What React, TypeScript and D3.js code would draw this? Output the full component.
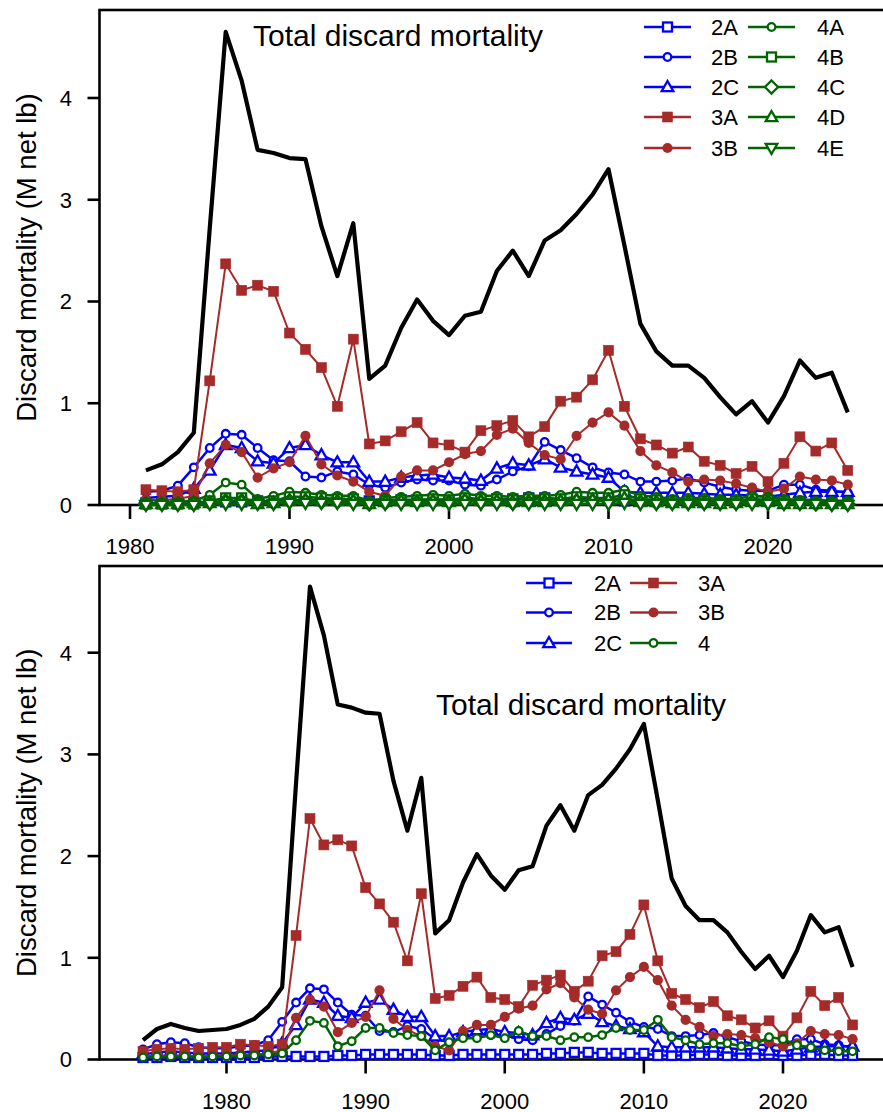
import React from "react";
import * as d3 from "d3";

// ---------- DATA ----------
const yearsAll = d3.range(1974, 2026); // 1974..2025 (bottom panel)
const yearsTop = d3.range(1981, 2026); // 1981..2025 (top panel)

const total = [
  0.19, 0.30, 0.35, 0.31, 0.28, 0.29, 0.30, 0.34, 0.40, 0.52, 0.71,
  2.72, 4.65, 4.17, 3.49, 3.46, 3.41, 3.40, 2.74, 2.25, 2.77,
  1.24, 1.37, 1.74, 2.02, 1.81, 1.67, 1.86, 1.90, 2.30, 2.50,
  2.25, 2.60, 2.70, 2.86, 3.05, 3.30, 2.55, 1.78, 1.51, 1.37,
  1.37, 1.25, 1.06, 0.89, 1.02, 0.81, 1.07, 1.42, 1.25, 1.30, 0.91,
];
const s2A = [
  0.02, 0.02, 0.03, 0.02, 0.02, 0.02, 0.02, 0.02, 0.02, 0.03, 0.03,
  0.03, 0.03, 0.03, 0.04, 0.04, 0.05, 0.05, 0.05, 0.05, 0.05,
  0.04, 0.04, 0.05, 0.05, 0.05, 0.05, 0.05, 0.05, 0.06, 0.06,
  0.07, 0.07, 0.06, 0.06, 0.06, 0.06, 0.04, 0.04, 0.04, 0.05,
  0.05, 0.04, 0.04, 0.04, 0.05, 0.04, 0.04, 0.05, 0.05, 0.04, 0.04,
];
const s2B = [
  0.10, 0.15, 0.17, 0.16, 0.12, 0.11, 0.11, 0.13, 0.14, 0.19, 0.37,
  0.56, 0.70, 0.69, 0.56, 0.44, 0.43, 0.28, 0.27, 0.33, 0.30,
  0.20, 0.17, 0.22, 0.25, 0.24, 0.24, 0.20, 0.19, 0.25, 0.33,
  0.38, 0.62, 0.54, 0.46, 0.37, 0.32, 0.30, 0.23, 0.23, 0.24,
  0.26, 0.22, 0.18, 0.15, 0.14, 0.14, 0.20, 0.20, 0.15, 0.14, 0.12,
];
const s2C = [
  0.05, 0.07, 0.08, 0.07, 0.06, 0.06, 0.06, 0.07, 0.08, 0.09, 0.16,
  0.34, 0.59, 0.56, 0.43, 0.41, 0.56, 0.59, 0.49, 0.42, 0.42,
  0.23, 0.23, 0.27, 0.29, 0.30, 0.27, 0.26, 0.24, 0.36, 0.41,
  0.39, 0.45, 0.37, 0.33, 0.30, 0.27, 0.13, 0.12, 0.12, 0.12,
  0.12, 0.11, 0.10, 0.10, 0.09, 0.08, 0.10, 0.12, 0.13, 0.13, 0.13,
];
const s3A = [
  0.08, 0.10, 0.11, 0.10, 0.11, 0.12, 0.12, 0.15, 0.14, 0.13, 0.15,
  1.22, 2.37, 2.11, 2.16, 2.10, 1.69, 1.53, 1.35, 0.97, 1.63,
  0.60, 0.63, 0.72, 0.81, 0.61, 0.59, 0.52, 0.73, 0.78, 0.83,
  0.67, 0.77, 1.02, 1.06, 1.23, 1.52, 0.97, 0.65, 0.59, 0.51,
  0.57, 0.43, 0.39, 0.31, 0.38, 0.23, 0.41, 0.67, 0.53, 0.61, 0.34,
];
const s3B = [
  0.03, 0.04, 0.04, 0.04, 0.03, 0.04, 0.04, 0.05, 0.05, 0.06, 0.09,
  0.41, 0.59, 0.52, 0.27, 0.36, 0.42, 0.68, 0.40, 0.29, 0.23,
  0.13, 0.09, 0.28, 0.34, 0.34, 0.42, 0.50, 0.53, 0.69, 0.75,
  0.61, 0.49, 0.45, 0.68, 0.81, 0.91, 0.78, 0.53, 0.39, 0.32,
  0.23, 0.25, 0.24, 0.21, 0.17, 0.13, 0.16, 0.28, 0.25, 0.24, 0.20,
];
const s4 = [
  0.02, 0.03, 0.03, 0.03, 0.02, 0.03, 0.03, 0.04, 0.04, 0.05, 0.06,
  0.19, 0.38, 0.36, 0.13, 0.18, 0.31, 0.31, 0.26, 0.24, 0.23,
  0.09, 0.17, 0.21, 0.21, 0.24, 0.21, 0.28, 0.23, 0.23, 0.19,
  0.22, 0.22, 0.24, 0.31, 0.29, 0.29, 0.39, 0.22, 0.19, 0.15,
  0.16, 0.16, 0.13, 0.15, 0.22, 0.20, 0.14, 0.12, 0.09, 0.08, 0.08,
];
// top-panel area 4 sub-areas, 1981..2025
const s4A = [
  0.02, 0.02, 0.03, 0.04,
  0.10, 0.22, 0.20, 0.06, 0.09, 0.13, 0.12, 0.10, 0.09, 0.09,
  0.04, 0.07, 0.08, 0.09, 0.10, 0.09, 0.11, 0.09, 0.09, 0.08,
  0.09, 0.09, 0.10, 0.13, 0.12, 0.12, 0.15, 0.09, 0.08, 0.06,
  0.07, 0.07, 0.06, 0.06, 0.09, 0.08, 0.06, 0.05, 0.04, 0.04, 0.04,
];
const s4B = [
  0.01, 0.01, 0.01, 0.01,
  0.04, 0.07, 0.07, 0.03, 0.04, 0.08, 0.08, 0.07, 0.06, 0.06,
  0.02, 0.04, 0.05, 0.05, 0.06, 0.05, 0.07, 0.06, 0.06, 0.05,
  0.06, 0.06, 0.06, 0.08, 0.07, 0.07, 0.10, 0.06, 0.05, 0.04,
  0.04, 0.04, 0.03, 0.04, 0.06, 0.05, 0.04, 0.03, 0.02, 0.02, 0.02,
];
const s4C = [
  0.01, 0.01, 0.01, 0.01,
  0.02, 0.04, 0.04, 0.02, 0.02, 0.04, 0.04, 0.03, 0.03, 0.03,
  0.01, 0.02, 0.03, 0.03, 0.03, 0.03, 0.04, 0.03, 0.03, 0.02,
  0.03, 0.03, 0.03, 0.04, 0.04, 0.04, 0.05, 0.03, 0.02, 0.02,
  0.02, 0.02, 0.02, 0.02, 0.03, 0.03, 0.02, 0.02, 0.01, 0.01, 0.01,
];
const s4D = [
  0.01, 0.01, 0.01, 0.02,
  0.02, 0.04, 0.04, 0.01, 0.02, 0.04, 0.05, 0.04, 0.04, 0.04,
  0.01, 0.03, 0.04, 0.03, 0.04, 0.03, 0.05, 0.04, 0.04, 0.03,
  0.03, 0.03, 0.04, 0.05, 0.05, 0.05, 0.07, 0.03, 0.03, 0.02,
  0.02, 0.02, 0.01, 0.02, 0.03, 0.03, 0.01, 0.01, 0.01, 0.01, 0.01,
];
const s4E = [
  0.00, 0.00, 0.00, 0.00,
  0.01, 0.01, 0.01, 0.01, 0.01, 0.02, 0.02, 0.02, 0.02, 0.01,
  0.01, 0.01, 0.01, 0.01, 0.01, 0.01, 0.01, 0.01, 0.01, 0.01,
  0.01, 0.01, 0.01, 0.01, 0.01, 0.01, 0.02, 0.01, 0.01, 0.01,
  0.01, 0.01, 0.01, 0.01, 0.01, 0.01, 0.01, 0.01, 0.01, 0.00, 0.00,
];

const xTicks = [1980, 1990, 2000, 2010, 2020];
const yTicks = [0, 1, 2, 3, 4];
const titleText = "Total discard mortality";
const yLabel = "Discard mortality (M net lb)";

// ---------- STYLE ----------
const BLUE = "#0000FF";
const BROWN = "#A52A2A";
const GREEN = "#006400";
const FONT = "'Liberation Sans', Arial, Helvetica, sans-serif";

type MarkerKind = "osquare" | "ocircle" | "otriangle" | "fsquare" | "fcircle" | "odiamond" | "otridown";

const topSeries = [
  { name: "2A", color: BLUE, marker: "osquare" as MarkerKind, data: s2A.slice(7) },
  { name: "2B", color: BLUE, marker: "ocircle" as MarkerKind, data: s2B.slice(7) },
  { name: "2C", color: BLUE, marker: "otriangle" as MarkerKind, data: s2C.slice(7) },
  { name: "3A", color: BROWN, marker: "fsquare" as MarkerKind, data: s3A.slice(7) },
  { name: "3B", color: BROWN, marker: "fcircle" as MarkerKind, data: s3B.slice(7) },
  { name: "4A", color: GREEN, marker: "ocircle" as MarkerKind, data: s4A },
  { name: "4B", color: GREEN, marker: "osquare" as MarkerKind, data: s4B },
  { name: "4C", color: GREEN, marker: "odiamond" as MarkerKind, data: s4C },
  { name: "4D", color: GREEN, marker: "otriangle" as MarkerKind, data: s4D },
  { name: "4E", color: GREEN, marker: "otridown" as MarkerKind, data: s4E },
];
const botSeries = [
  { name: "2A", color: BLUE, marker: "osquare" as MarkerKind, data: s2A },
  { name: "2B", color: BLUE, marker: "ocircle" as MarkerKind, data: s2B },
  { name: "2C", color: BLUE, marker: "otriangle" as MarkerKind, data: s2C },
  { name: "3A", color: BROWN, marker: "fsquare" as MarkerKind, data: s3A },
  { name: "3B", color: BROWN, marker: "fcircle" as MarkerKind, data: s3B },
  { name: "4", color: GREEN, marker: "ocircle" as MarkerKind, data: s4 },
];

function Marker({ kind, x, y, color }: { kind: MarkerKind; x: number; y: number; color: string }) {
  const sw = 2.3;
  switch (kind) {
    case "osquare":
      return <rect x={x - 4.5} y={y - 4.5} width={9} height={9} fill="white" stroke={color} strokeWidth={sw} />;
    case "ocircle":
      return <circle cx={x} cy={y} r={3.8} fill="white" stroke={color} strokeWidth={sw} />;
    case "otriangle":
      return (
        <path
          d={`M${x},${y - 6}L${x + 5.8},${y + 4.2}L${x - 5.8},${y + 4.2}Z`}
          fill="white"
          stroke={color}
          strokeWidth={sw}
        />
      );
    case "otridown":
      return (
        <path
          d={`M${x},${y + 6}L${x + 5.8},${y - 4.2}L${x - 5.8},${y - 4.2}Z`}
          fill="white"
          stroke={color}
          strokeWidth={sw}
        />
      );
    case "odiamond":
      return (
        <path
          d={`M${x},${y - 6.5}L${x + 6.5},${y}L${x},${y + 6.5}L${x - 6.5},${y}Z`}
          fill="white"
          stroke={color}
          strokeWidth={sw}
        />
      );
    case "fsquare":
      return <rect x={x - 5} y={y - 5} width={10} height={10} fill={color} stroke={color} strokeWidth={0.6} />;
    case "fcircle":
      return <circle cx={x} cy={y} r={5.1} fill={color} />;
  }
}

type Series = { name: string; color: string; marker: MarkerKind; data: number[] };

function Panel({
  years,
  series,
  x,
  y,
  top,
  bottom,
  left,
  titleX,
  titleY,
  legendCols,
  legendX,
  legendY,
}: {
  years: number[];
  series: Series[];
  x: d3.ScaleLinear<number, number>;
  y: d3.ScaleLinear<number, number>;
  top: number;
  bottom: number;
  left: number;
  titleX: number;
  titleY: number;
  legendCols: Series[][];
  legendX: { line0: number; line1: number; text: number }[];
  legendY: number[];
}) {
  const line = d3
    .line<number>()
    .x((_, i) => x(years[i]))
    .y((d) => y(d));
  const totalData = total.slice(total.length - years.length);
  return (
    <g>
      {/* box */}
      <rect x={left} y={top} width={900 - left} height={bottom - top} fill="none" stroke="black" strokeWidth={2.6} />
      {/* x ticks */}
      {xTicks.map((t) => (
        <g key={t}>
          <line x1={x(t)} x2={x(t)} y1={bottom} y2={bottom + 14} stroke="black" strokeWidth={2.6} />
          <text x={x(t)} y={bottom + 49} textAnchor="middle" fontSize={22} fontFamily={FONT}>
            {t}
          </text>
        </g>
      ))}
      {/* y ticks */}
      {yTicks.map((t) => (
        <g key={t}>
          <line x1={left - 12} x2={left} y1={y(t)} y2={y(t)} stroke="black" strokeWidth={2.6} />
          <text x={72} y={y(t)} dy="0.36em" textAnchor="end" fontSize={22} fontFamily={FONT}>
            {t}
          </text>
        </g>
      ))}
      <text
        transform={`translate(36,${(top + bottom) / 2}) rotate(-90)`}
        textAnchor="middle"
        fontSize={27.5}
        fontFamily={FONT}
      >
        {yLabel}
      </text>
      {/* total */}
      <path d={line(totalData) || ""} fill="none" stroke="black" strokeWidth={4.2} strokeLinejoin="round" />
      {/* series */}
      {series.map((s) => (
        <g key={s.name}>
          <path d={line(s.data) || ""} fill="none" stroke={s.color} strokeWidth={s.color === BROWN ? 2 : 2.5} />
          {s.data.map((v, i) => (
            <Marker key={i} kind={s.marker} x={x(years[i])} y={y(v)} color={s.color} />
          ))}
        </g>
      ))}
      {/* title */}
      <text x={titleX} y={titleY} fontSize={30} fontFamily={FONT}>
        {titleText}
      </text>
      {/* legend */}
      {legendCols.map((col, ci) =>
        col.map((s, ri) => {
          const lx = legendX[ci];
          const ly = legendY[ri];
          return (
            <g key={s.name}>
              <line x1={lx.line0} x2={lx.line1} y1={ly} y2={ly} stroke={s.color} strokeWidth={2.5} />
              <Marker kind={s.marker} x={(lx.line0 + lx.line1) / 2} y={ly} color={s.color} />
              <text x={lx.text} y={ly} dy="0.36em" fontSize={22} fontFamily={FONT}>
                {s.name}
              </text>
            </g>
          );
        })
      )}
    </g>
  );
}

export default function App() {
  const xTop = d3.scaleLinear().domain([1980, 2020]).range([130, 768]);
  const yTop = d3.scaleLinear().domain([0, 4]).range([505, 98]);
  const xBot = d3.scaleLinear().domain([1980, 2020]).range([226.5, 783]);
  const yBot = d3.scaleLinear().domain([0, 4]).range([1059.5, 652.7]);

  return (
    <svg
      width={883}
      height={1112}
      style={{ position: "absolute", left: 0, top: 0, background: "white" }}
    >
      <rect x={0} y={0} width={883} height={1112} fill="white" />
      <Panel
        years={yearsTop}
        series={topSeries}
        x={xTop}
        y={yTop}
        top={10}
        bottom={505}
        left={99.5}
        titleX={253}
        titleY={46}
        legendCols={[topSeries.slice(0, 5), topSeries.slice(5)]}
        legendX={[
          { line0: 644, line1: 691, text: 711 },
          { line0: 748, line1: 795, text: 817 },
        ]}
        legendY={[27, 57, 87, 117, 148]}
      />
      <Panel
        years={yearsAll}
        series={botSeries}
        x={xBot}
        y={yBot}
        top={566}
        bottom={1059.5}
        left={99.5}
        titleX={436}
        titleY={715}
        legendCols={[botSeries.slice(0, 3), botSeries.slice(3)]}
        legendX={[
          { line0: 526, line1: 572, text: 594 },
          { line0: 630, line1: 677, text: 698 },
        ]}
        legendY={[583, 612.5, 643]}
      />
    </svg>
  );
}
